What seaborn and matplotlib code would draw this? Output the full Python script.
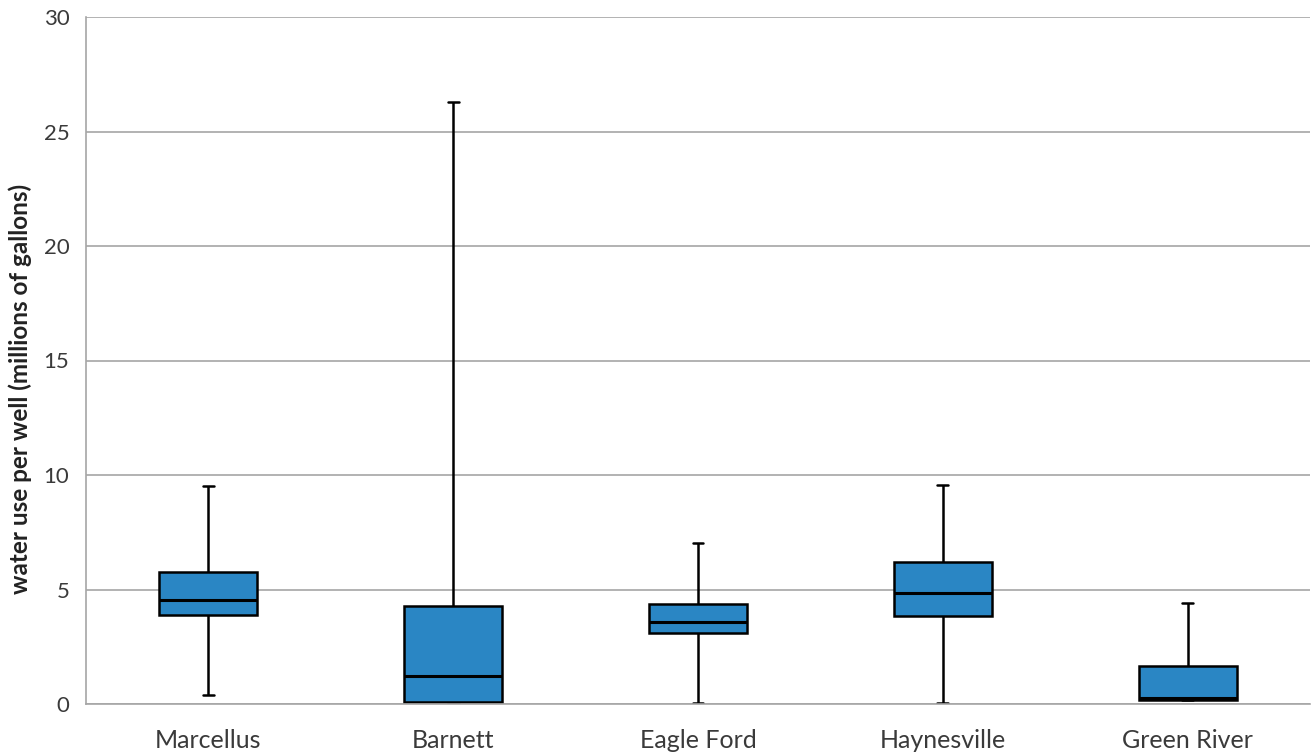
import matplotlib
matplotlib.use("Agg")
import matplotlib.pyplot as plt
import seaborn as sns
import pandas as pd

categories = ["Marcellus", "Barnett", "Eagle Ford", "Haynesville", "Green River"]
# five-number summaries: min, q1, median, q3, max (millions of gallons)
mins =    [0.41, 0.03, 0.03, 0.03, 0.16]
q1s =     [3.90, 0.07, 3.10, 3.84, 0.16]
medians = [4.54, 1.22, 3.58, 4.86, 0.27]
q3s =     [5.78, 4.28, 4.35, 6.19, 1.66]
maxs =    [9.50, 26.30, 7.03, 9.58, 4.41]
yticks = [0, 5, 10, 15, 20, 25, 30]
ylabel = "water use per well (millions of gallons)"

rows = []
for c, a, b, m, d, e in zip(categories, mins, q1s, medians, q3s, maxs):
    for v in (a, b, m, d, e):
        rows.append({"basin": c, "value": v})
df = pd.DataFrame(rows)

sns.set_style("white")
plt.rcParams["font.family"] = ["Lato", "DejaVu Sans"]

fig = plt.figure(figsize=(13.14, 7.53), dpi=100)
ax = fig.add_axes([86/1314, 1-704/753, (1310-86)/1314, (704-17)/753])

sns.boxplot(data=df, x="basin", y="value", order=categories, whis=(0, 100),
            color="#2a86c4", saturation=1, width=0.4, linecolor="black",
            linewidth=1.8, showfliers=False, ax=ax,
            medianprops={"linewidth": 2.2})

# shorten caps
for line in ax.lines:
    xd = line.get_xdata()
    if len(xd) == 2 and abs(xd[1] - xd[0]) > 1e-6:
        yd = line.get_ydata()
        if abs(yd[0] - yd[1]) < 1e-9:
            w = abs(xd[1] - xd[0])
            if w < 0.39:
                cx = (xd[0] + xd[1]) / 2
                line.set_xdata([cx - 0.022, cx + 0.022])

ax.set_xlim(-0.5, 4.5)
ax.set_ylim(0, 30)
ax.set_yticks(yticks)
ax.set_yticklabels([str(t) for t in yticks], fontsize=16, color="#3a3a3a")
ax.yaxis.grid(True, color="#a6a6a6", linewidth=1.2)
ax.set_axisbelow(True)
ax.set_xlabel("")
ax.set_ylabel(ylabel, fontsize=17.5, fontweight="bold", color="#222222")
ax.yaxis.set_label_coords(-0.044, 0.458)

ax.set_xticks(range(len(categories)))
ax.set_xticklabels(categories, fontsize=18, color="#3a3a3a")
ax.tick_params(axis="x", which="major", length=0, pad=18)
ax.set_xticks([i - 0.5 for i in range(len(categories) + 1)], minor=True)
ax.tick_params(axis="x", which="minor", length=8, color="#a6a6a6", width=1.2)
ax.tick_params(axis="y", length=6, color="#a6a6a6", width=1.2, pad=6)

for s in ["top", "right"]:
    ax.spines[s].set_visible(False)
for s in ["left", "bottom"]:
    ax.spines[s].set_color("#a6a6a6")
    ax.spines[s].set_linewidth(1.2)

fig.savefig("out.png", dpi=100, facecolor="white")
